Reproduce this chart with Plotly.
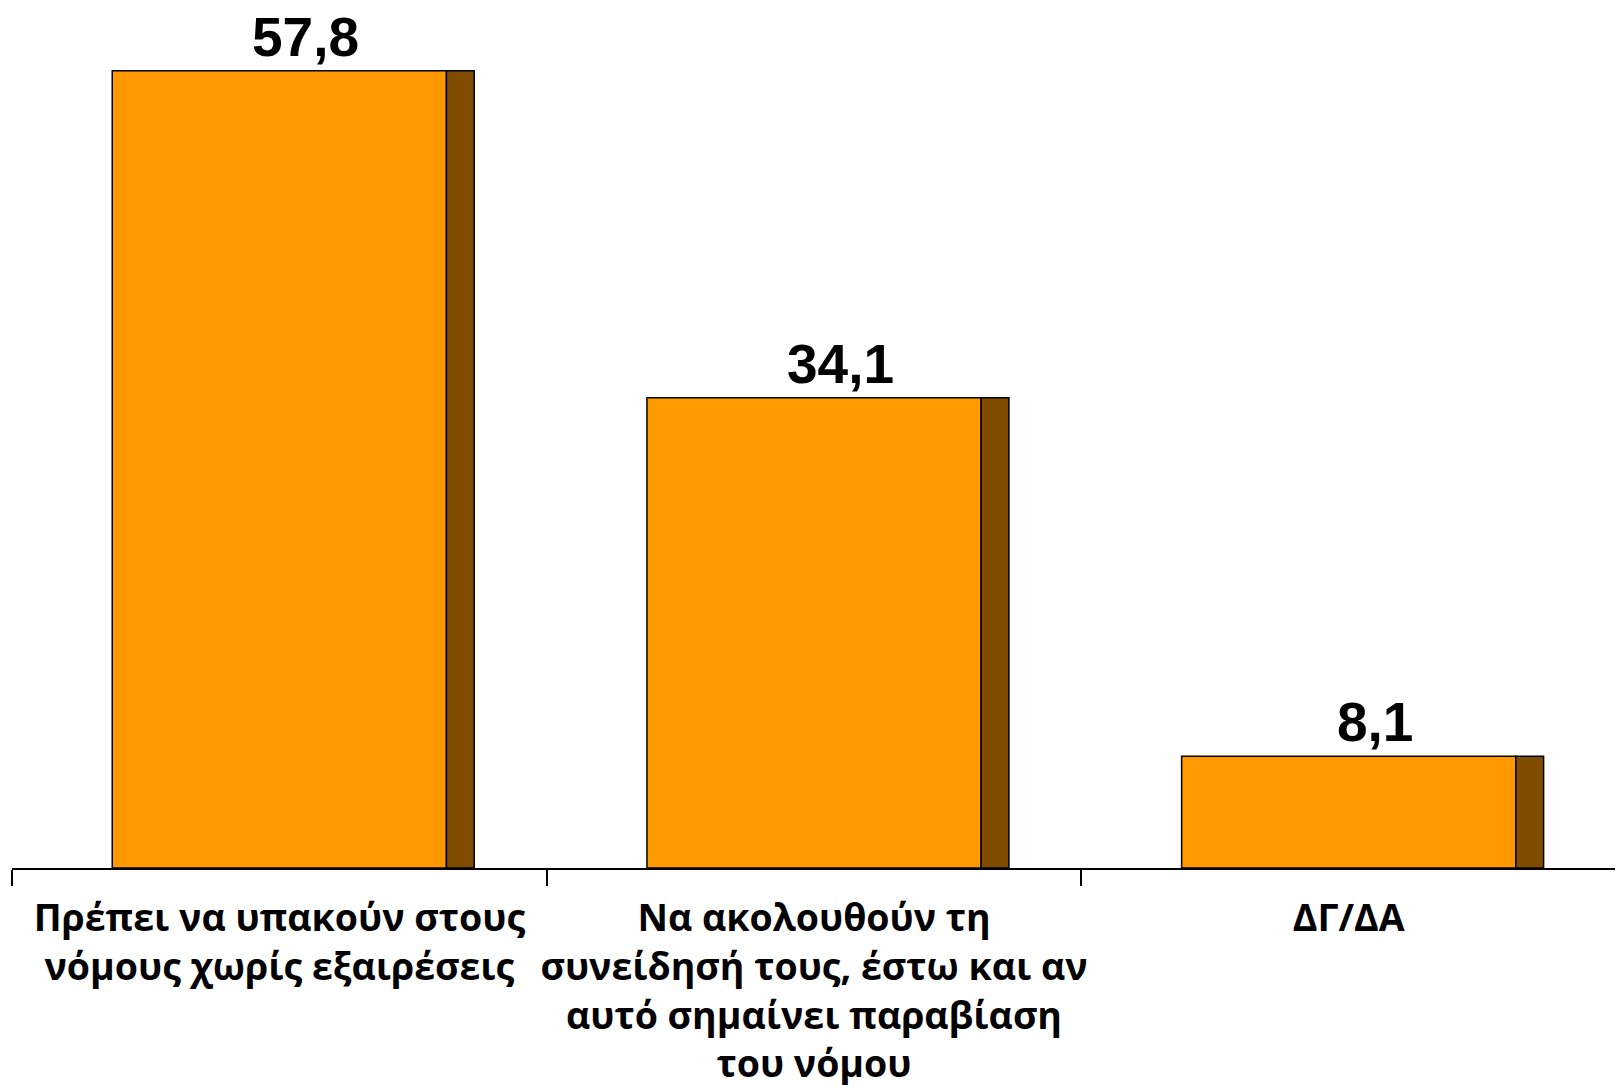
import plotly.graph_objects as go

categories = [
    "Πρέπει να υπακούν στους<br>νόμους χωρίς εξαιρέσεις",
    "Να ακολουθούν τη<br>συνείδησή τους, έστω και αν<br>αυτό σημαίνει παραβίαση<br>του νόμου",
    "ΔΓ/ΔΑ",
]
values = [57.8, 34.1, 8.1]
value_labels = ["57,8", "34,1", "8,1"]

fig = go.Figure()
fig.add_trace(go.Bar(
    x=categories, y=values, width=0.625, offset=-0.3125,
    marker=dict(color="#FF9900", line=dict(color="black", width=1.5)),
    hoverinfo="skip", showlegend=False,
))
fig.add_trace(go.Bar(
    x=categories, y=values, width=0.052, offset=0.3125,
    marker=dict(color="#7F4C00", line=dict(color="black", width=1.5)),
    hoverinfo="skip", showlegend=False,
))

for c, v, t in zip(categories, values, value_labels):
    fig.add_annotation(
        x=c, y=v, text=t, showarrow=False, xanchor="center", yanchor="bottom",
        xshift=26, yshift=1,
        font=dict(family="Liberation Sans, Arial", size=55, color="black", weight="bold"),
    )

fig.update_layout(
    width=1615, height=1077,
    margin=dict(l=4, r=0, t=0, b=217, autoexpand=False),
    paper_bgcolor="white", plot_bgcolor="white",
    barmode="overlay",
    xaxis=dict(
        type="category", range=[-0.5, 2.513], automargin=False,
        showline=True, linecolor="black", linewidth=2,
        ticks="outside", tickson="boundaries", ticklen=16, tickwidth=1.5, tickcolor="black",
        tickfont=dict(family="Open Sans", size=37.5, color="black", weight="bold"),
        ticklabelstandoff=16,
        showgrid=False, zeroline=False, tickangle=0,
    ),
    yaxis=dict(
        range=[0, 62.35], visible=False, showgrid=False, zeroline=False,
    ),
)

fig.write_html("out.html")
